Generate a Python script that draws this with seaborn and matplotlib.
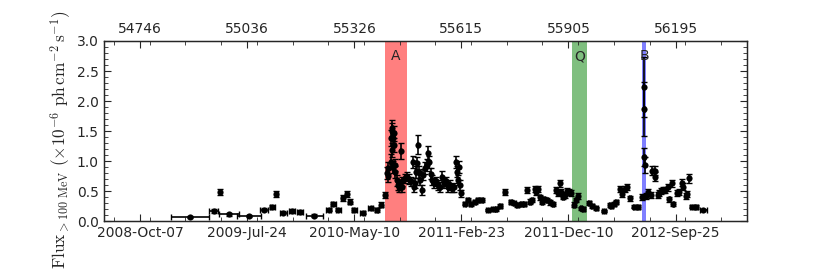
import numpy as np
import pandas as pd
import matplotlib
matplotlib.use("Agg")
import matplotlib.pyplot as plt
import seaborn as sns
from matplotlib.ticker import FixedLocator, AutoMinorLocator, MultipleLocator

# light curve (MJD, flux in 1e-6 ph cm^-2 s^-1)
mjd = [54881, 54946, 54963, 54987, 55041, 55082, 55104, 55115, 55134, 55158,
       55180, 55218, 55256, 55269, 55283, 55294, 55305, 55313, 55326, 55348,
       55370, 55386, 55399, 55410,
       55415, 55417, 55418, 55424, 55426, 55427, 55427, 55429, 55430, 55431,
       55432, 55434, 55435, 55437, 55440, 55443, 55446, 55448, 55451, 55454,
       55456, 55462, 55467, 55473, 55478, 55484, 55486, 55489, 55492, 55494,
       55497, 55500, 55503, 55508, 55511, 55516, 55522, 55524, 55527, 55532,
       55535, 55541, 55546, 55551, 55557, 55562, 55568, 55573, 55579, 55584,
       55589, 55595, 55600, 55603, 55606, 55608, 55611, 55614,
       55625, 55633, 55641, 55652, 55660, 55671, 55687, 55701, 55709, 55720,
       55733, 55749, 55758, 55766, 55777, 55785, 55793, 55801, 55806, 55815,
       55817, 55823, 55828, 55834, 55839, 55847, 55855, 55863, 55872, 55877,
       55882, 55885, 55890, 55896, 55901, 55907, 55912, 55920, 55926, 55931,
       55939, 55945, 55961, 55969, 55980, 56002, 56018, 56021, 56029, 56034,
       56045, 56050, 56059, 56064, 56072, 56083, 56094, 56105, 56109, 56110,
       56110, 56111, 56116, 56121, 56127, 56132, 56138, 56140, 56146, 56151,
       56156, 56162, 56167, 56173, 56178, 56184, 56189, 56200, 56205, 56211,
       56216, 56222, 56227, 56232, 56240, 56251, 56270]
flux = [0.07, 0.17, 0.49, 0.11, 0.08, 0.19, 0.23, 0.45, 0.14, 0.17,
        0.15, 0.09, 0.19, 0.28, 0.19, 0.39, 0.45, 0.32, 0.18, 0.14,
        0.21, 0.18, 0.27, 0.43,
        0.80, 0.88, 0.75, 0.99, 1.38, 1.50, 1.18, 1.55, 0.90, 1.38,
        1.46, 1.27, 0.93, 0.82, 0.68, 0.60, 0.56, 0.60, 1.17, 0.57,
        0.66, 0.71, 0.74, 0.70, 0.66, 0.99, 0.57, 0.63, 0.82, 0.96,
        1.27, 0.82, 0.68, 0.52, 0.77, 0.88, 0.93, 1.13, 0.99, 0.79,
        0.68, 0.63, 0.66, 0.60, 0.57, 0.74, 0.63, 0.66, 0.57, 0.60,
        0.55, 0.56, 0.99, 0.82, 0.68, 0.90, 0.60, 0.46,
        0.29, 0.35, 0.28, 0.32, 0.35, 0.35, 0.18, 0.195, 0.195, 0.255,
        0.49, 0.32, 0.295, 0.27, 0.28, 0.28, 0.52, 0.32, 0.35, 0.53,
        0.49, 0.53, 0.395, 0.32, 0.36, 0.35, 0.31, 0.28, 0.52, 0.47,
        0.63, 0.49, 0.405, 0.43, 0.505, 0.49, 0.46, 0.27, 0.35, 0.42,
        0.21, 0.20, 0.305, 0.25, 0.21, 0.17, 0.27, 0.25, 0.28, 0.32,
        0.53, 0.45, 0.53, 0.56, 0.38, 0.24, 0.23, 0.405, 2.24, 1.86,
        1.07, 0.93, 0.42, 0.49, 0.43, 0.84, 0.84, 0.74, 0.43, 0.46,
        0.505, 0.52, 0.52, 0.56, 0.36, 0.63, 0.28, 0.46, 0.49, 0.64,
        0.57, 0.42, 0.45, 0.71, 0.24, 0.23, 0.18]
mjd_err = [52, 12, 3, 26, 33, 10, 7, 3, 10, 8,
           8, 22, 8, 6, 6, 4, 4, 4, 6, 7,
           6, 5, 4, 3,
           1.5, 1.5, 1.5, 1.5, 1.5, 1.5, 1.5, 1.5, 1.5, 1.5,
           1.5, 1.5, 1.5, 1.5, 1.5, 1.5, 1.5, 1.5, 1.5, 1.5,
           1.5, 1.5, 1.5, 1.5, 1.5, 1.5, 1.5, 1.5, 1.5, 1.5,
           1.5, 1.5, 1.5, 1.5, 1.5, 1.5, 1.5, 1.5, 1.5, 1.5,
           1.5, 1.5, 1.5, 1.5, 1.5, 1.5, 1.5, 1.5, 1.5, 1.5,
           1.5, 1.5, 1.5, 1.5, 1.5, 1.5, 1.5, 1.5,
           4, 4, 4, 4, 4, 4, 5, 5, 4, 4,
           4, 4, 4, 4, 4, 4, 3, 3, 3, 3,
           3, 3, 3, 3, 3, 3, 3, 3, 3, 3,
           3, 3, 3, 3, 3, 3, 3, 3, 3, 3,
           3, 4, 4, 4, 4, 5, 4, 4, 4, 4,
           3, 3, 3, 3, 3, 4, 4, 2, 1, 1,
           1, 1, 2, 2, 2, 2, 2, 2, 2, 2,
           2, 2, 2, 2, 2, 2, 2, 2, 2, 2,
           2, 2, 2, 2, 5, 5, 10]
flux_err = [0.02, 0.03, 0.05, 0.02, 0.02, 0.03, 0.03, 0.05, 0.03, 0.03,
            0.03, 0.02, 0.03, 0.03, 0.03, 0.05, 0.05, 0.04, 0.03, 0.03,
            0.03, 0.03, 0.04, 0.05,
            0.10, 0.10, 0.10, 0.12, 0.13, 0.13, 0.12, 0.14, 0.10, 0.12,
            0.12, 0.12, 0.10, 0.10, 0.09, 0.08, 0.08, 0.08, 0.13, 0.08,
            0.08, 0.08, 0.08, 0.08, 0.08, 0.10, 0.08, 0.08, 0.10, 0.10,
            0.16, 0.10, 0.08, 0.08, 0.09, 0.10, 0.10, 0.12, 0.10, 0.09,
            0.08, 0.08, 0.08, 0.08, 0.08, 0.09, 0.08, 0.08, 0.08, 0.08,
            0.07, 0.07, 0.10, 0.09, 0.08, 0.10, 0.08, 0.06,
            0.03, 0.03, 0.03, 0.03, 0.03, 0.03, 0.02, 0.02, 0.02, 0.03,
            0.05, 0.03, 0.03, 0.03, 0.03, 0.03, 0.05, 0.04, 0.04, 0.05,
            0.05, 0.05, 0.04, 0.04, 0.04, 0.04, 0.04, 0.03, 0.05, 0.05,
            0.06, 0.05, 0.04, 0.05, 0.05, 0.05, 0.05, 0.04, 0.04, 0.05,
            0.03, 0.03, 0.03, 0.03, 0.03, 0.02, 0.03, 0.03, 0.03, 0.03,
            0.05, 0.05, 0.05, 0.05, 0.04, 0.03, 0.03, 0.05, 0.50, 0.45,
            0.15, 0.13, 0.05, 0.05, 0.05, 0.08, 0.08, 0.08, 0.05, 0.05,
            0.05, 0.05, 0.05, 0.06, 0.04, 0.06, 0.03, 0.05, 0.05, 0.06,
            0.06, 0.05, 0.05, 0.07, 0.03, 0.03, 0.02]

# shaded periods
band_names = ["A", "Q", "B"]
band_start = [55408, 55915, 56105]
band_end = [55467, 55956, 56116]
band_colors = ["red", "green", "blue"]

# axis ticks
mjd_ticks = [54746, 55036, 55326, 55615, 55905, 56195]
date_labels = ["2008-Oct-07", "2009-Jul-24", "2010-May-10",
               "2011-Feb-23", "2011-Dec-10", "2012-Sep-25"]

df = pd.DataFrame({"mjd": mjd, "flux": flux, "mjd_err": mjd_err, "flux_err": flux_err})

sns.set_style("ticks", {"xtick.direction": "in", "ytick.direction": "in"})
plt.rcParams["mathtext.fontset"] = "cm"
plt.rcParams["font.family"] = ["DejaVu Sans"]

fig, ax = plt.subplots(figsize=(8.3, 2.77), dpi=100)
fig.subplots_adjust(left=0.125, right=0.9, top=0.852, bottom=0.202)

for name, s, e, c in zip(band_names, band_start, band_end, band_colors):
    ax.axvspan(s, e, color=c, alpha=0.5, lw=0, zorder=0)
    ax.text((s + e) / 2, 2.75, name, ha="center", va="center", fontsize=10)

ax.errorbar(df["mjd"], df["flux"], xerr=df["mjd_err"], yerr=df["flux_err"],
            fmt="none", ecolor="black", elinewidth=1.2, capsize=2.5, capthick=1, zorder=2)
sns.scatterplot(data=df, x="mjd", y="flux", color="black", s=20, edgecolor="black",
                linewidth=0, ax=ax, zorder=3)

ax.set_xlim(54648, 56388)
ax.set_ylim(0, 3.0)
ax.xaxis.set_major_locator(FixedLocator(mjd_ticks))
ax.set_xticklabels(date_labels)
ax.xaxis.set_minor_locator(MultipleLocator(289.8 / 3))
ax.yaxis.set_major_locator(MultipleLocator(0.5))
ax.yaxis.set_minor_locator(AutoMinorLocator(5))
ax.set_xlabel("")
ax.set_ylabel(r"$\rm Flux_{>100\ MeV}\ (\mathbf{\times 10^{-6}}\ ph\,cm^{-2}\,s^{-1})$",
              fontsize=12.5)
ax.yaxis.set_label_coords(-0.047, 0.45)
ax.tick_params(which="both", right=True, direction="in", labelsize=10)
ax.tick_params(which="major", length=5)
ax.tick_params(which="minor", length=3)
for sp in ax.spines.values():
    sp.set_visible(True)
    sp.set_linewidth(1)

ax2 = ax.twiny()
ax2.set_xlim(ax.get_xlim())
ax2.xaxis.set_major_locator(FixedLocator(mjd_ticks))
ax2.set_xticklabels([str(t) for t in mjd_ticks])
ax2.xaxis.set_minor_locator(MultipleLocator(289.8 / 3))
ax2.tick_params(which="both", direction="in", labelsize=10)
ax2.tick_params(which="major", length=5)
ax2.tick_params(which="minor", length=3)

fig.savefig("out.png", dpi=100)
